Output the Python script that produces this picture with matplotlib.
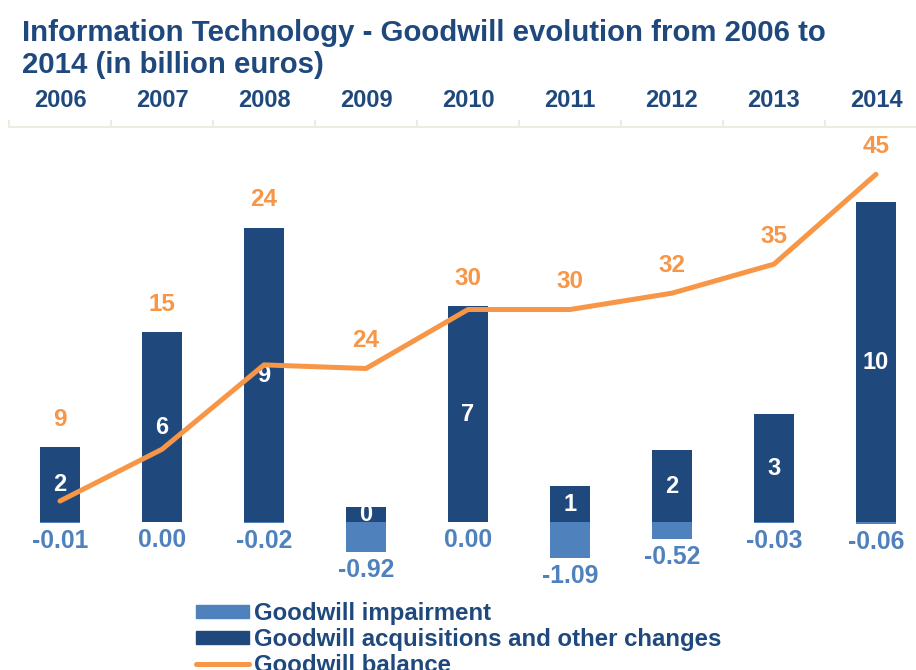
import matplotlib
matplotlib.use('Agg')
import matplotlib.pyplot as plt
from matplotlib.lines import Line2D
from matplotlib.patches import Patch

# values (billion euros)
years = ['2006', '2007', '2008', '2009', '2010', '2011', '2012', '2013', '2014']
impairment = [-0.01, 0.00, -0.02, -0.92, 0.00, -1.09, -0.52, -0.03, -0.06]
acquisitions = [2.31, 5.81, 9.01, 0.48, 6.61, 1.12, 2.21, 3.30, 9.80]
balance = [9.0, 14.7, 24.0, 23.6, 30.1, 30.1, 31.9, 35.1, 45.0]

navy = '#1F497D'
light = '#4F81BD'
orange = '#F79646'
rule = '#EEEBE0'

plt.rcParams['font.family'] = ['Liberation Sans', 'DejaVu Sans']
plt.rcParams['font.weight'] = 'bold'

fig = plt.figure(figsize=(9.16, 6.70), dpi=100)
ax = fig.add_axes([9 / 916, 1 - 600 / 670, 918 / 916, 473 / 670])
x = list(range(len(years)))

ax.bar(x, acquisitions, width=0.4, color=navy, zorder=2)
ax.bar(x, impairment, width=0.4, color=light, zorder=2)
ax.set_xlim(-0.5, len(years) - 0.5)
ax.set_ylim(-2.376, 12.09)

# category axis drawn along the top
ax.xaxis.tick_top()
ax.set_xticks(x)
ax.set_xticklabels(years, fontsize=17, color=navy, fontweight='bold')
ax.set_xticks([i - 0.5 for i in range(len(years) + 1)], minor=True)
ax.tick_params(axis='x', which='major', length=0, pad=11)
ax.tick_params(axis='x', which='minor', length=5, width=1.5, color=rule)
ax.set_yticks([])
for side in ['left', 'right', 'bottom']:
    ax.spines[side].set_visible(False)
ax.spines['top'].set_color(rule)
ax.spines['top'].set_linewidth(1.5)

ax2 = ax.twinx()
ax2.plot(x, balance, color=orange, lw=3.6, solid_capstyle='round',
         solid_joinstyle='round', zorder=3)
ax2.set_ylim(-1.906, 50.21)
ax2.set_yticks([])
for side in ax2.spines:
    ax2.spines[side].set_visible(False)

# labels inside / under the bars
for i in x:
    ax.text(i, acquisitions[i] / 2, f"{acquisitions[i]:.0f}", ha='center', va='center',
            color='white', fontsize=17, fontweight='bold', zorder=4)
    ax.annotate(f"{impairment[i]:.2f}", (i, impairment[i]), xytext=(0, -13),
                textcoords='offset points', ha='center', va='center',
                color=light, fontsize=17.8, fontweight='bold')

# balance labels sit above whichever is higher: bar top or line point
for i in x:
    bar_px = ax.transData.transform((i, acquisitions[i]))[1]
    line_px = ax2.transData.transform((i, balance[i]))[1]
    y2 = ax2.transData.inverted().transform((0, max(bar_px, line_px)))[1]
    ax2.annotate(f"{balance[i]:.0f}", (i, y2), xytext=(0, 20),
                 textcoords='offset points', ha='center', va='center',
                 color=orange, fontsize=17.5, fontweight='bold')

fig.text(22 / 916, 1 - 73 / 670,
         'Information Technology - Goodwill evolution from 2006 to\n2014 (in billion euros)',
         ha='left', va='baseline', fontsize=21.2, color=navy, fontweight='bold',
         linespacing=1.2)

handles = [Patch(color=light), Patch(color=navy),
           Line2D([0], [0], color=orange, lw=3.6, solid_capstyle='round')]
labels = ['Goodwill impairment', 'Goodwill acquisitions and other changes', 'Goodwill balance']
leg = fig.legend(handles, labels, loc='upper left', bbox_to_anchor=(196 / 916, 1 - 602 / 670),
                 frameon=False, borderpad=0, borderaxespad=0, labelspacing=0.12,
                 handlelength=2.2, handleheight=0.45, handletextpad=0.22,
                 prop={'size': 17.3, 'weight': 'bold'})
for t in leg.get_texts():
    t.set_color(navy)

fig.savefig('out.png', dpi=100)
